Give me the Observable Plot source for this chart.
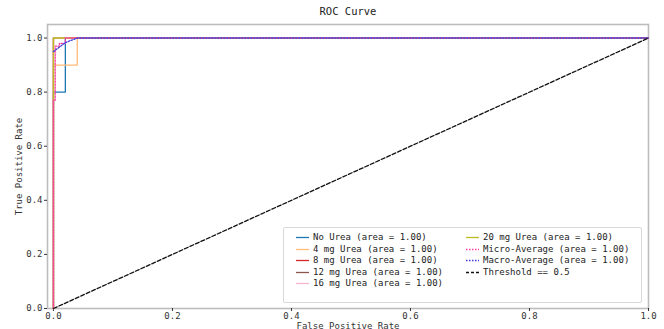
<!DOCTYPE html>
<html><head><meta charset="utf-8">
<script src="https://cdn.jsdelivr.net/npm/d3@7"></script>
<script src="https://cdn.jsdelivr.net/npm/@observablehq/plot@0.6"></script>
<style>
body{margin:0;background:#fff;}
#wrap{position:relative;width:664px;height:329px;font-family:"DejaVu Sans Mono",monospace;}
#legend{position:absolute;left:283px;top:227px;width:359px;height:76px;border:1px solid #d8d8d8;border-radius:2px;background:rgba(255,255,255,0.85);box-sizing:border-box;font-size:9px;color:#222;}
.item{position:absolute;height:11px;line-height:11px;white-space:nowrap;}
.item svg{position:absolute;left:0;top:0;}
.item span{position:absolute;left:17px;top:0;}
</style></head>
<body><div id="wrap"><div id="legend"></div></div>
<script>
const seriesNames = ["No Urea","4 mg Urea","8 mg Urea","12 mg Urea","16 mg Urea","20 mg Urea","Micro-Average","Macro-Average"];
const aucs = [1.00,1.00,1.00,1.00,1.00,1.00,1.00,1.00];
const colors = ["#1f77b4","#ffbb78","#d62728","#8c564b","#f7b6d2","#bcbd22","#ff3fa4","#3a3adf"];
const dashes = [null,null,null,null,null,null,"1.5,1.5","1.5,1.5"];
const fprNoUrea = [0,0,0.02,0.02,1];   const tprNoUrea = [0,0.8,0.8,1,1];
const fpr4mg = [0,0,0.04,0.04,1];      const tpr4mg = [0,0.9,0.9,1,1];
const fpr8mg = [0,0,1];                const tpr8mg = [0,1,1];
const fpr12mg = [0,0,1];               const tpr12mg = [0,1,1];
const fpr16mg = [0,0,1];               const tpr16mg = [0,1,1];
const fpr20mg = [0,0,1];               const tpr20mg = [0,1,1];
const fprMicro = [0,0,0.003,0.003,0.01,0.01,0.02,0.02,1];
const tprMicro = [0,0.77,0.77,0.97,0.97,0.98,0.98,1,1];
const fprMacro = [0,0.02,0.04,1];      const tprMacro = [0.95,0.983,1,1];
const fprThreshold = [0,1];            const tprThreshold = [0,1];
const xTicks = [0,0.2,0.4,0.6,0.8,1.0];
const yTicks = [0,0.2,0.4,0.6,0.8,1.0];

const allF = [fprNoUrea,fpr4mg,fpr8mg,fpr12mg,fpr16mg,fpr20mg,fprMicro,fprMacro];
const allT = [tprNoUrea,tpr4mg,tpr8mg,tpr12mg,tpr16mg,tpr20mg,tprMicro,tprMacro];
const rows = [];
allF.forEach((f,i)=>f.forEach((x,j)=>rows.push({s:seriesNames[i],x,y:allT[i][j],i})));
const thr = fprThreshold.map((x,j)=>({x,y:tprThreshold[j]}));

const font = "DejaVu Sans Mono, monospace";
const marks = [
  Plot.frame({stroke:"#bdbdbd",strokeWidth:1.6}),
  Plot.axisX({ticks:xTicks,tickFormat:d3.format(".1f"),tickSize:3,tickPadding:1,label:"False Positive Rate",labelAnchor:"center",labelArrow:"none",labelOffset:20,fontSize:9,color:"#333"}),
  Plot.axisY({ticks:yTicks,tickFormat:d3.format(".1f"),tickSize:3,tickPadding:2,label:"True Positive Rate",labelAnchor:"center",labelOffset:32,labelArrow:"none",fontSize:9,color:"#333"}),
];
seriesNames.forEach((n,i)=>{
  marks.push(Plot.line(rows.filter(r=>r.i===i),{x:"x",y:"y",stroke:colors[i],strokeWidth:1.3,strokeDasharray:dashes[i]}));
});
marks.push(Plot.line(thr,{x:"x",y:"y",stroke:"#111",strokeWidth:1.3,strokeDasharray:"4,2"}));
marks.push(Plot.text(["ROC Curve"],{frameAnchor:"top",dy:-17,fontSize:10.5,fill:"#222"}));

const chart = Plot.plot({
  width:664,height:329,
  marginTop:24,marginLeft:47,marginRight:16,marginBottom:21,
  style:{fontFamily:font,background:"#fff",overflow:"visible"},
  x:{domain:[-0.01,1.0],label:"False Positive Rate"},
  y:{domain:[0,1.05],label:"True Positive Rate"},
  marks
});
const wrap = document.getElementById("wrap");
wrap.insertBefore(chart, wrap.firstChild);

// legend
const legend = document.getElementById("legend");
const legItems = seriesNames.map((n,i)=>({label:`${n} (area = ${aucs[i].toFixed(2)})`,color:colors[i],dash:dashes[i]}));
legItems.push({label:"Threshold == 0.5",color:"#111",dash:"3,2"});
legItems.forEach((it,k)=>{
  const col = k<5?0:1, row = k<5?k:k-5;
  const d = document.createElement("div");
  d.className="item";
  d.style.left = (col===0?12:182)+"px";
  d.style.top = (4+row*11.5)+"px";
  d.innerHTML = `<svg width="14" height="11"><line x1="0" x2="13" y1="5.5" y2="5.5" stroke="${it.color}" stroke-width="1.3" ${it.dash?`stroke-dasharray="${it.dash}"`:""}/></svg><span>${it.label}</span>`;
  legend.appendChild(d);
});
</script></body></html>
